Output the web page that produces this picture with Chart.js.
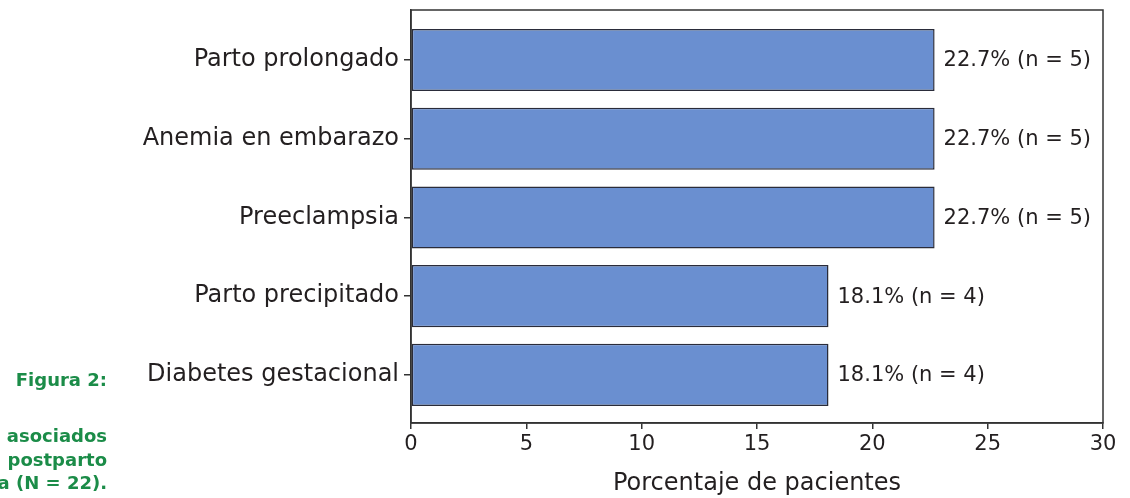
<!DOCTYPE html>
<html lang="es">
<head>
<meta charset="UTF-8">
<title>Figura 2</title>
<script src="https://cdn.jsdelivr.net/npm/chart.js"></script>
<style>
  html, body { margin: 0; padding: 0; background: #fff; }
  #wrap { position: relative; width: 1130px; height: 498px; overflow: hidden; }
  #chart { position: absolute; left: 0; top: 0; }
  .cap { position: absolute; right: 1023px; white-space: nowrap; text-align: right;
         font-family: "DejaVu Sans", sans-serif; font-weight: 700; color: #1b8c48;
         font-size: 18px; line-height: 22px; }
</style>
</head>
<body>
<div id="wrap">
  <canvas id="chart" width="1130" height="498"></canvas>
  <div class="cap" style="top:369px;">Figura 2:</div>
  <div class="cap" style="top:425px;">asociados</div>
  <div class="cap" style="top:449px;">postparto</div>
  <div class="cap" style="top:472px;">a (N = 22).</div>
</div>
<script>
const categories = ['Parto prolongado', 'Anemia en embarazo', 'Preeclampsia', 'Parto precipitado', 'Diabetes gestacional'];
const percentages = [22.7, 22.7, 22.7, 18.1, 18.1];
const counts = [5, 5, 5, 4, 4];
const xTicks = [0, 5, 10, 15, 20, 25, 30];

const textColor = '#231f20';
const lineColor = '#333333';
const fontFamily = '"DejaVu Sans", sans-serif';

// box round the plot area + value labels at the end of each bar
const framePlugin = {
    id: 'frame',
    afterDraw(chart) {
        const { ctx, chartArea } = chart;
        ctx.save();
        ctx.strokeStyle = lineColor;
        ctx.lineWidth = 1.5;
        ctx.strokeRect(chartArea.left, chartArea.top, chartArea.right - chartArea.left, chartArea.bottom - chartArea.top);

        const meta = chart.getDatasetMeta(0);
        ctx.fillStyle = textColor;
        ctx.font = '21px ' + fontFamily;
        ctx.textAlign = 'left';
        ctx.textBaseline = 'middle';
        meta.data.forEach((bar, i) => {
            ctx.fillText(percentages[i].toFixed(1) + '% (n = ' + counts[i] + ')', bar.x + 9, bar.y + 1);
        });
        ctx.restore();
    }
};

const ctx = document.getElementById('chart').getContext('2d');
new Chart(ctx, {
    type: 'bar',
    data: {
        datasets: [{
            data: percentages.map((v, i) => ({ x: v, y: i })),
            backgroundColor: '#6a8fd0',
            borderColor: '#2a2c3a',
            borderWidth: 1.5,
            borderSkipped: false,
            barPercentage: 0.79,
            categoryPercentage: 1
        }]
    },
    options: {
        indexAxis: 'y',
        responsive: false,
        animation: false,
        layout: { padding: { top: 10, right: 27, left: 0, bottom: 0 } },
        plugins: { legend: { display: false }, tooltip: { enabled: false } },
        scales: {
            x: {
                type: 'linear',
                min: 0,
                max: 30,
                afterBuildTicks: (scale) => { scale.ticks = xTicks.map(v => ({ value: v })); },
                afterFit: (scale) => { scale.height = 75; },
                grid: { drawOnChartArea: false, tickLength: 6, color: lineColor, lineWidth: 1.5 },
                border: { color: lineColor, width: 1.5 },
                ticks: { color: textColor, font: { family: fontFamily, size: 21 }, padding: 3 },
                title: {
                    display: true,
                    text: 'Porcentaje de pacientes',
                    color: textColor,
                    font: { family: fontFamily, size: 24 },
                    padding: { top: 5, bottom: 0 }
                }
            },
            y: {
                type: 'linear',
                reverse: true,
                offset: false,
                min: -0.635,
                max: 4.61,
                afterBuildTicks: (scale) => { scale.ticks = categories.map((c, i) => ({ value: i })); },
                afterFit: (scale) => {
                    scale.width = 411;
                    scale.paddingTop = 0;
                    scale.paddingBottom = 0;
                },
                grid: { offset: false, drawOnChartArea: false, tickLength: 7, color: lineColor, lineWidth: 1.5 },
                border: { color: lineColor, width: 1.5 },
                ticks: {
                    color: textColor,
                    font: { family: fontFamily, size: 24 },
                    padding: 5,
                    callback: (v) => categories[v]
                }
            }
        }
    },
    plugins: [framePlugin]
});
</script>
</body>
</html>
